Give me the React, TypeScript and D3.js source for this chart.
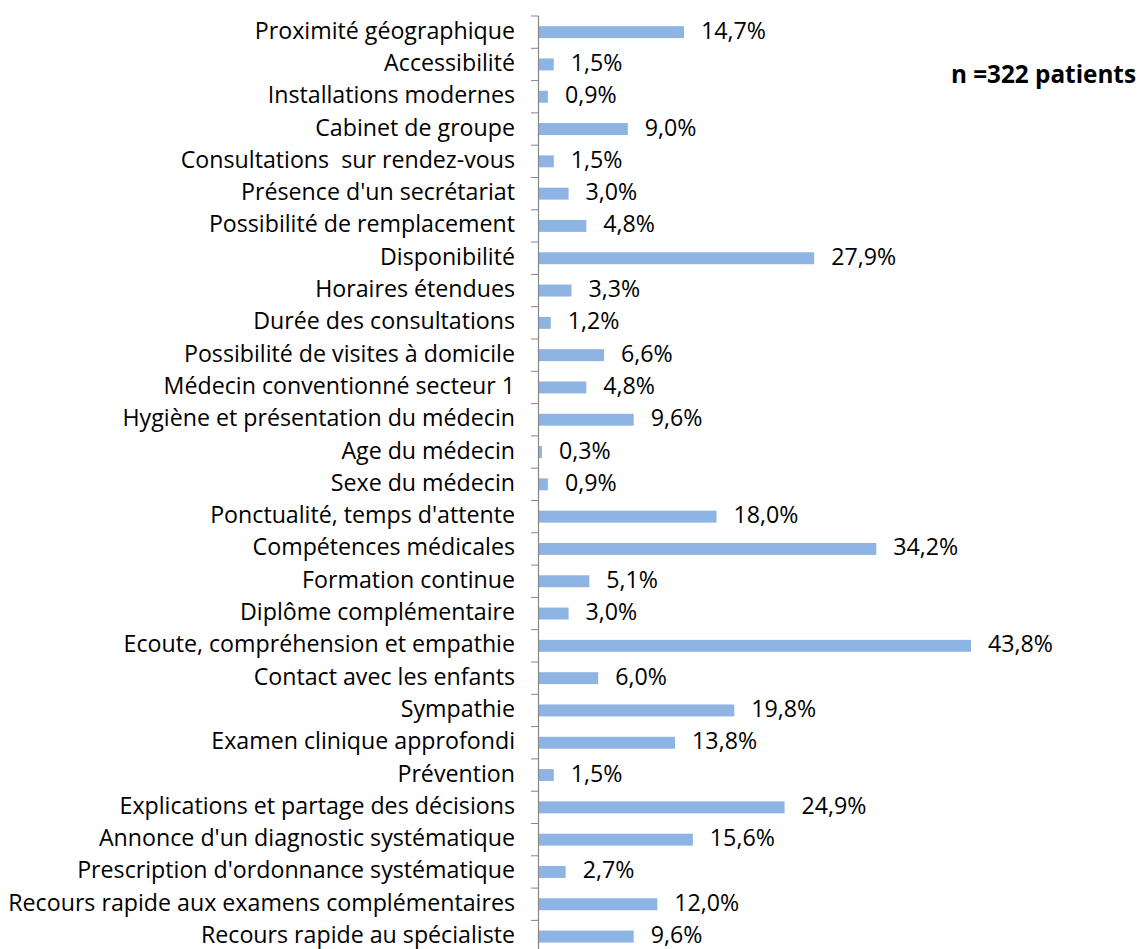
import React from "react";
import * as d3 from "d3";

const categories = [
  "Proximité géographique",
  "Accessibilité",
  "Installations modernes",
  "Cabinet de groupe",
  "Consultations  sur rendez-vous",
  "Présence d'un secrétariat",
  "Possibilité de remplacement",
  "Disponibilité",
  "Horaires étendues",
  "Durée des consultations",
  "Possibilité de visites à domicile",
  "Médecin conventionné secteur 1",
  "Hygiène et présentation du médecin",
  "Age du médecin",
  "Sexe du médecin",
  "Ponctualité, temps d'attente",
  "Compétences médicales",
  "Formation continue",
  "Diplôme complémentaire",
  "Ecoute, compréhension et empathie",
  "Contact avec les enfants",
  "Sympathie",
  "Examen clinique approfondi",
  "Prévention",
  "Explications et partage des décisions",
  "Annonce d'un diagnostic systématique",
  "Prescription d'ordonnance systématique",
  "Recours rapide aux examens complémentaires",
  "Recours rapide au spécialiste",
];

const values = [
  14.7, 1.5, 0.9, 9.0, 1.5, 3.0, 4.8, 27.9, 3.3, 1.2, 6.6, 4.8, 9.6, 0.3, 0.9,
  18.0, 34.2, 5.1, 3.0, 43.8, 6.0, 19.8, 13.8, 1.5, 24.9, 15.6, 2.7, 12.0, 9.6,
];

const annotation = "n =322 patients";

const W = 1138;
const H = 949;
const FONT = "'Open Sans', sans-serif";

export default function App() {
  const axisX = 538.5;
  const x = d3.scaleLinear().domain([0, 50]).range([539, 539 + 50 * 9.863]);
  const y = d3
    .scaleBand<string>()
    .domain(categories)
    .range([16, 16 + 29 * 32.3])
    .paddingInner(0.63)
    .paddingOuter(0.315);
  const step = y.step();
  const fmt = (v: number) => d3.format(".1f")(v).replace(".", ",") + "%";
  const fs = 23.2;

  return (
    <svg
      width={W}
      height={H}
      style={{ position: "absolute", left: 0, top: 0, background: "#fff", fontVariantLigatures: "none" }}
      fontFamily={FONT}
    >
      <rect x={0} y={0} width={W} height={H} fill="#fff" />
      {categories.map((c, i) => {
        const yb = y(c)!;
        const cy = yb + y.bandwidth() / 2;
        return (
          <g key={c}>
            <rect
              x={x(0)}
              y={yb}
              width={x(values[i]) - x(0)}
              height={y.bandwidth()}
              fill="#8EB4E3"
            />
            <text
              x={515}
              y={cy}
              dy="0.28em"
              textAnchor="end"
              fontSize={fs}
              fill="#000"
              style={{ whiteSpace: "pre" }}
            >
              {c}
            </text>
            <text
              x={x(values[i]) + 17}
              y={cy}
              dy="0.28em"
              textAnchor="start"
              fontSize={fs}
              fill="#000"
            >
              {fmt(values[i])}
            </text>
          </g>
        );
      })}
      {d3.range(categories.length + 1).map((k) => {
        const ty = 16 + k * step;
        return (
          <line
            key={k}
            x1={531}
            x2={axisX}
            y1={ty}
            y2={ty}
            stroke="#868686"
            strokeWidth={1}
          />
        );
      })}
      <line x1={axisX} x2={axisX} y1={16} y2={H} stroke="#868686" strokeWidth={1.2} />
      <text
        x={1136}
        y={83}
        textAnchor="end"
        fontSize={24.3}
        fontWeight="bold"
        fill="#000"
      >
        {annotation}
      </text>
    </svg>
  );
}
